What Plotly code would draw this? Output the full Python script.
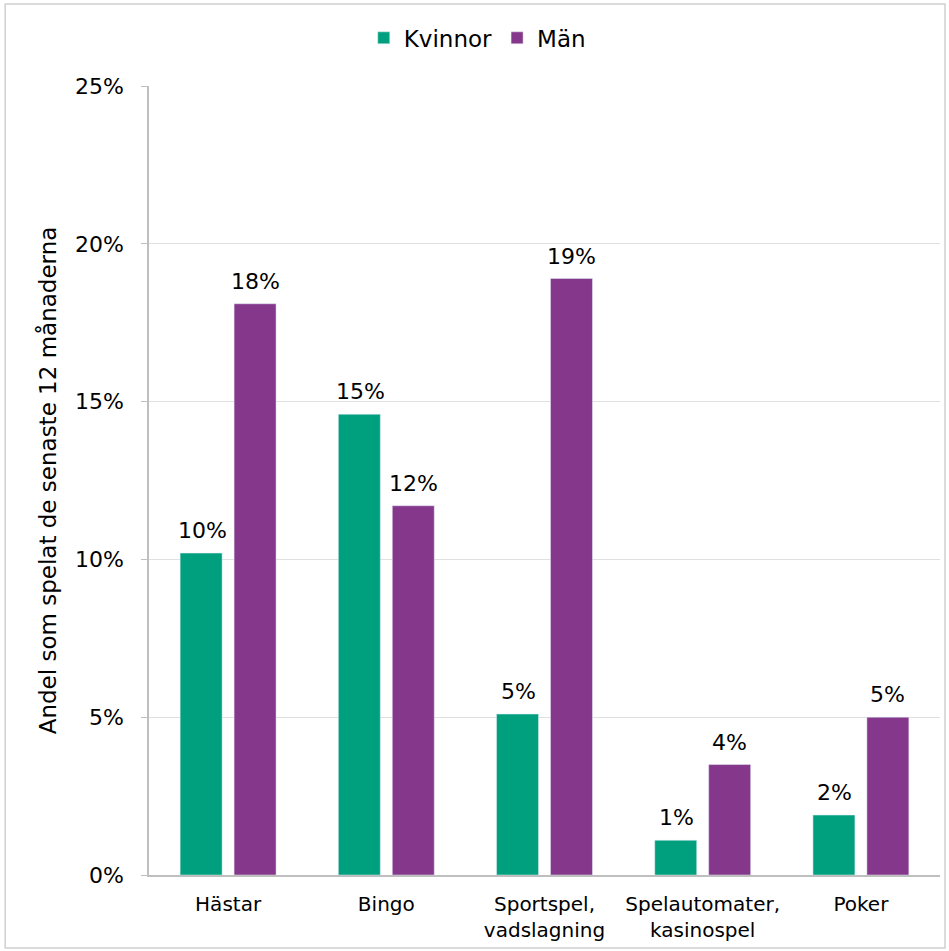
import plotly.graph_objects as go

categories = ["Hästar", "Bingo", "Sportspel,<br>vadslagning", "Spelautomater,<br>kasinospel", "Poker"]
kvinnor = [10.2, 14.6, 5.1, 1.1, 1.9]
man = [18.1, 11.7, 18.9, 3.5, 5.0]
kvinnor_labels = ["10%", "15%", "5%", "1%", "2%"]
man_labels = ["18%", "12%", "19%", "4%", "5%"]
y_ticks = [0, 5, 10, 15, 20, 25]
y_tick_labels = ["0%", "5%", "10%", "15%", "20%", "25%"]

FONT = "DejaVu Sans"
GREEN = "#009F7E"
PURPLE = "#84378B"

fig = go.Figure()
fig.add_trace(go.Bar(x=categories, y=kvinnor, name="Kvinnor", marker_color=GREEN))
fig.add_trace(go.Bar(x=categories, y=man, name="Män", marker_color=PURPLE))

annotations = []
for cat, v, lab in zip(categories, kvinnor, kvinnor_labels):
    annotations.append(dict(x=cat, y=v, text=lab, showarrow=False, xshift=-26, yshift=8,
                            yanchor="bottom", font=dict(family=FONT, size=22, color="#000000")))
for cat, v, lab in zip(categories, man, man_labels):
    annotations.append(dict(x=cat, y=v, text=lab, showarrow=False, xshift=27, yshift=8,
                            yanchor="bottom", font=dict(family=FONT, size=22, color="#000000")))

fig.update_layout(
    width=949, height=951,
    margin=dict(l=149, r=9, t=86, b=76),
    paper_bgcolor="white", plot_bgcolor="white",
    barmode="group", bargap=0.318, bargroupgap=0.222,
    font=dict(family=FONT, size=20, color="#000000"),
    legend=dict(orientation="h", x=0.415, xanchor="center", y=1.061, yanchor="middle",
                font=dict(family=FONT, size=23), itemwidth=30, traceorder="normal"),
    showlegend=True,
    annotations=annotations,
    xaxis=dict(showline=True, linecolor="#BFBFBF", linewidth=1.5, ticks="",
               tickfont=dict(family=FONT, size=20), showgrid=False, ticklabelstandoff=10),
    yaxis=dict(range=[0, 25], tickvals=y_ticks, ticktext=y_tick_labels,
               showgrid=True, gridcolor="#E0E0E0", gridwidth=1,
               showline=True, linecolor="#BFBFBF", linewidth=1.5,
               ticks="outside", ticklen=6, tickcolor="#BFBFBF",
               tickfont=dict(family=FONT, size=22), zeroline=False, ticklabelstandoff=13,
               title=dict(text="Andel som spelat de senaste 12 månaderna",
                          font=dict(family=FONT, size=23), standoff=12)),
    shapes=[dict(type="rect", xref="paper", yref="paper",
                 x0=-0.1818, x1=1.0063, y0=-0.0925, y1=1.104,
                 line=dict(color="#D0D0D0", width=1.5), fillcolor="rgba(0,0,0,0)")],
)

fig.write_html("out.html")
